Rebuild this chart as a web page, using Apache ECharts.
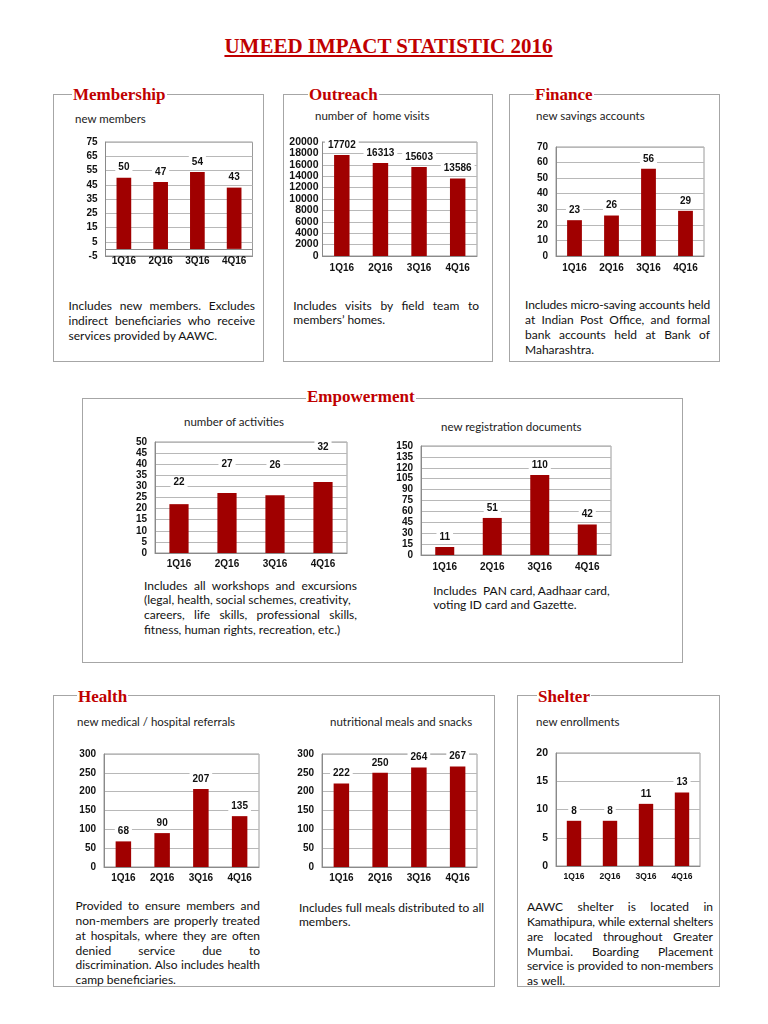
<!DOCTYPE html>
<html><head><meta charset="utf-8">
<script src="https://cdn.jsdelivr.net/npm/echarts@6/dist/echarts.min.js"></script>
<style>
html,body{margin:0;padding:0;background:#fff;}
#page{position:relative;width:768px;height:1024px;overflow:hidden;background:#fff;}
.frame{position:absolute;border:1px solid #a6a6a6;box-sizing:border-box;}
.ptitle{position:absolute;font-family:"Liberation Serif","Times New Roman",serif;font-weight:bold;font-size:17px;color:#c00000;background:#fff;line-height:18px;padding:0 1px;white-space:nowrap;}
.main{position:absolute;left:0;width:777px;text-align:center;font-family:"Liberation Serif","Times New Roman",serif;font-weight:bold;font-size:21px;color:#c00000;line-height:24px;}
.main span{text-decoration:underline;text-decoration-thickness:1.5px;text-underline-offset:2px;}
.sub{position:absolute;font-family:Lato,"Open Sans",sans-serif;font-size:11.5px;color:#222;white-space:pre;line-height:14px;}
.desc{position:absolute;font-family:Lato,"Open Sans",sans-serif;font-size:12px;color:#111;line-height:14.8px;}
.desc div{white-space:pre;}
.desc div.j{white-space:nowrap;text-align:justify;text-align-last:justify;}
#chart{position:absolute;left:0;top:0;width:768px;height:1024px;z-index:2;}
</style></head>
<body><div id="page"><div id="chart"></div></div>
<script>
// ---------- data ----------
const quarters = ['1Q16', '2Q16', '3Q16', '4Q16'];
const newMembers = [50, 47, 54, 43];
const homeVisits = [17702, 16313, 15603, 13586];
const savingsAccounts = [23, 26, 56, 29];
const activities = [22, 27, 26, 32];
const registrationDocs = [11, 51, 110, 42];
const medicalReferrals = [68, 90, 207, 135];
const mealsSnacks = [222, 250, 264, 267];
const shelterEnrollments = [8, 8, 11, 13];

// ---------- texts ----------
const mainTitle = 'UMEED IMPACT STATISTIC 2016';
const panelTitles = ['Membership', 'Outreach', 'Finance', 'Empowerment', 'Health', 'Shelter'];
const subtitles = ['new members', 'number of  home visits', 'new savings accounts', 'number of activities',
  'new registration documents', 'new medical / hospital referrals', 'nutritional meals and snacks', 'new enrollments'];
const descriptions = [
  ['Includes new members. Excludes', 'indirect beneficiaries who receive', 'services provided by AAWC.'],
  ['Includes visits by field team to', 'members\u2019 homes.'],
  ['Includes micro-saving accounts held', 'at Indian Post Office, and formal', 'bank accounts held at Bank of', 'Maharashtra.'],
  ['Includes all workshops and excursions', '(legal, health, social schemes, creativity,', 'careers, life skills, professional skills,', 'fitness, human rights, recreation, etc.)'],
  ['Includes  PAN card, Aadhaar card,', 'voting ID card and Gazette.'],
  ['Provided to ensure members and', 'non-members are properly treated', 'at hospitals, where they are often', 'denied service due to', 'discrimination. Also includes health', 'camp beneficiaries.'],
  ['Includes full meals distributed to all', 'members.'],
  ['AAWC shelter is located in', 'Kamathipura, while external shelters', 'are located throughout Greater', 'Mumbai. Boarding Placement', 'service is provided to non-members', 'as well.']
];

// ---------- layout (positions / styles) ----------
const frames = [
  {l: 53, t: 94, r: 264, b: 362}, {l: 283, t: 94, r: 493, b: 362}, {l: 509, t: 94, r: 720, b: 362},
  {l: 82, t: 398, r: 683, b: 663}, {l: 53, t: 695, r: 495, b: 987}, {l: 517, t: 695, r: 720, b: 987}
];
const titlePos = [{x: 72, y: 95}, {x: 308, y: 95}, {x: 534, y: 95}, {x: 306, y: 397}, {x: 77, y: 697}, {x: 537, y: 697}];
const subPos = [{x: 75, y: 119}, {x: 315, y: 116}, {x: 536, y: 116}, {x: 184, y: 422}, {x: 441, y: 426.5}, {x: 77, y: 721.5}, {x: 330, y: 721.5}, {x: 536, y: 721.5}];
const descPos = [
  {x: 68.5, w: 186.5, y: 306.5, j: [1, 1, 0]},
  {x: 293.3, w: 185.7, y: 306, j: [1, 0]},
  {x: 525, w: 185, y: 305.7, j: [1, 1, 1, 0]},
  {x: 144, w: 213, y: 586, j: [1, 0, 1, 0]},
  {x: 433.3, w: 175, y: 591, j: [0, 0]},
  {x: 75.5, w: 184.5, y: 906.7, j: [1, 1, 1, 1, 1, 0]},
  {x: 299, w: 185, y: 908, j: [1, 0]},
  {x: 527, w: 186, y: 907.7, j: [1, 1, 1, 1, 1, 0]}
];
const activityLabelGap = [16, 23, 24, 29];

const page = document.getElementById('page');
function add(cls, css) {
  const d = document.createElement('div');
  d.className = cls;
  Object.assign(d.style, css);
  page.appendChild(d);
  return d;
}
const mt = add('main', {top: (46 - 12) + 'px'});
const ms = document.createElement('span'); ms.textContent = mainTitle; mt.appendChild(ms);

frames.forEach(f => add('frame', {left: f.l + 'px', top: f.t + 'px', width: (f.r - f.l) + 'px', height: (f.b - f.t) + 'px'}));
panelTitles.forEach((t, i) => {
  const d = add('ptitle', {left: titlePos[i].x + 'px', top: (titlePos[i].y - 9) + 'px'});
  d.textContent = t;
});
subtitles.forEach((t, i) => {
  const d = add('sub', {left: subPos[i].x + 'px', top: (subPos[i].y - 7) + 'px'});
  d.textContent = t;
});
const cv = document.createElement('canvas').getContext('2d');
descriptions.forEach((lines, i) => {
  const p = descPos[i];
  const d = add('desc', {left: p.x + 'px', top: (p.y - 7.4) + 'px', width: p.w + 'px'});
  lines.forEach((ln, k) => {
    const ld = document.createElement('div');
    ld.textContent = ln;
    if (p.j[k]) {
      ld.className = 'j';
      cv.font = '12px Lato';
      const w = cv.measureText(ln).width;
      if (w > p.w - 1) ld.style.letterSpacing = ((p.w - 1 - w) / ln.length).toFixed(3) + 'px';
    }
    d.appendChild(ld);
  });
});

// ---------- charts ----------
const BAR = '#a00000';
const FONT = '"Liberation Sans", Arial, sans-serif';
const panels = [
  {data: newMembers, grid: {left: 105.5, top: 142, width: 147, height: 114}, min: -5, max: 75, interval: 10, margin: 0, zeroLine: true},
  {data: homeVisits, grid: {left: 322.5, top: 142, width: 154.5, height: 114}, min: 0, max: 20000, interval: 2000, margin: 7, yMargin: 4, ySize: 10.5},
  {data: savingsAccounts, grid: {left: 556, top: 147, width: 148, height: 109}, min: 0, max: 70, interval: 10, margin: 7},
  {data: activities, grid: {left: 155, top: 442, width: 192, height: 111}, min: 0, max: 50, interval: 5, margin: 6, gaps: activityLabelGap},
  {data: registrationDocs, grid: {left: 421, top: 446, width: 190, height: 109}, min: 0, max: 150, interval: 15, margin: 7},
  {data: medicalReferrals, grid: {left: 104, top: 754, width: 155, height: 113}, min: 0, max: 300, interval: 50, margin: 6},
  {data: mealsSnacks, grid: {left: 322, top: 754, width: 155, height: 113}, min: 0, max: 300, interval: 50, margin: 6},
  {data: shelterEnrollments, grid: {left: 556, top: 753, width: 144, height: 113}, min: 0, max: 20, interval: 5, margin: 6, catSize: 8.5, ySize: 10.5}
];

const option = {
  animation: false,
  backgroundColor: 'transparent',
  grid: panels.map(p => Object.assign({show: true, borderColor: '#9a9a9a', borderWidth: 1, backgroundColor: 'transparent', containLabel: false}, p.grid)),
  xAxis: panels.map((p, i) => ({
    type: 'category', gridIndex: i, data: quarters,
    axisLine: {show: true, onZero: false, lineStyle: {color: '#8a8a8a', width: 1}},
    axisTick: {show: false},
    axisLabel: {fontFamily: FONT, fontWeight: 'bold', fontSize: p.catSize || 10, color: '#111', margin: p.margin}
  })),
  yAxis: panels.map((p, i) => ({
    type: 'value', gridIndex: i, min: p.min, max: p.max, interval: p.interval,
    axisLine: {show: true, lineStyle: {color: '#8a8a8a', width: 1}},
    axisTick: {show: false},
    splitLine: {show: true, lineStyle: {color: '#b8b8b8', width: 1}},
    axisLabel: {fontFamily: FONT, fontWeight: 'bold', fontSize: p.ySize || 10, color: '#111', margin: p.yMargin || 8,
      formatter: v => String(v)}
  })),
  series: panels.map((p, i) => ({
    type: 'bar', xAxisIndex: i, yAxisIndex: i, barWidth: '40%',
    itemStyle: {color: BAR},
    label: {show: true, position: 'top', distance: 4, fontFamily: FONT, fontWeight: 'bold', fontSize: 10, color: '#111',
      backgroundColor: '#fff', padding: [1, 3]},
    markLine: p.zeroLine ? {silent: true, symbol: 'none', label: {show: false},
      lineStyle: {color: '#8a8a8a', type: 'solid', width: 1}, data: [{yAxis: 0}]} : undefined,
    data: p.data.map((v, k) => p.gaps ? {value: v, label: {distance: p.gaps[k]}} : v)
  }))
};
const chart = echarts.init(document.getElementById('chart'), null, {renderer: 'canvas'});
chart.setOption(option);
</script></body></html>
